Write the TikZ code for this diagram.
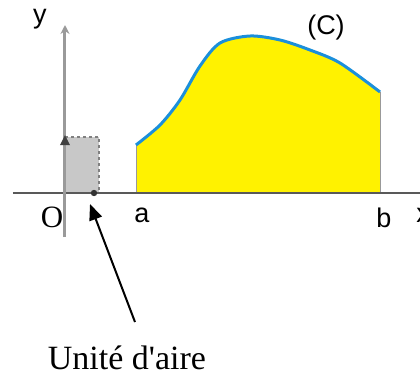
\documentclass[tikz,border=0pt]{standalone}
\usepackage{fontspec}
\setmainfont{Liberation Serif}
\newfontfamily\arialfont{Liberation Sans}
\usetikzlibrary{arrows.meta}
\definecolor{axisgray}{HTML}{9A9A9A}
\definecolor{aregray}{HTML}{C8C8C8}
\definecolor{curveblue}{HTML}{1B8FDB}
\definecolor{areayellow}{HTML}{FFF200}
\tikzset{
  lab/.style={font=\arialfont\fontsize{27}{30}\selectfont},
  serif/.style={font=\fontsize{31}{34}\selectfont},
}
\begin{document}
\begin{tikzpicture}[x=1pt,y=1pt]
\useasboundingbox (-65,-183) rectangle (355,193);
% unit square
\fill[aregray] (0,0) rectangle (34,56);
\draw[gray,dashed,line width=1.2pt] (0,56) -- (34,56) -- (34,0);
% area under (C)
\fill[areayellow] (71,0) -- plot[smooth] coordinates {(71,48) (95,68) (115,93) (135,127) (155,150) (185,157) (215,153) (245,143) (275,130) (315,101)}
  -- (315,0) -- cycle;
\draw[gray!80,line width=1pt] (71,0) -- (71,48);
\draw[gray!80,line width=1pt] (315,0) -- (315,101);
\draw[curveblue,line width=3pt] plot[smooth] coordinates {(71,48) (95,68) (115,93) (135,127) (155,150) (185,157) (215,153) (245,143) (275,130) (315,101)};
% axes
\draw[black!65,line width=1.3pt] (-52,0) -- (355,0);
\draw[axisgray,line width=3pt,-{Stealth[length=9pt,width=9pt]}] (0,-44) -- (0,168);
\fill[black!75] (-5,48) -- (5,48) -- (0,58) -- cycle;
\fill[black!80] (29,0) circle (3.2);
% labels
\node[lab] (ylab) at (-25,174) {y};
\node[lab] (xlab) at (358,-22) {x};
\node[lab] (clab) at (261,165) {(C)};
\node[lab] (alab) at (77,-22) {a};
\node[lab] (blab) at (319,-25) {b};
\node[serif] (olab) at (-13,-24) {O};
\node[serif,font=\fontsize{34}{36}\selectfont] (unite) at (62,-165) {Unité d\textquotesingle aire};
\coordinate (start) at (70,-129);
\coordinate (tip) at (25,-11);
\draw[line width=2pt,-{Triangle[length=16pt,width=13pt]}] (start) -- (tip);
\end{tikzpicture}
\end{document}
